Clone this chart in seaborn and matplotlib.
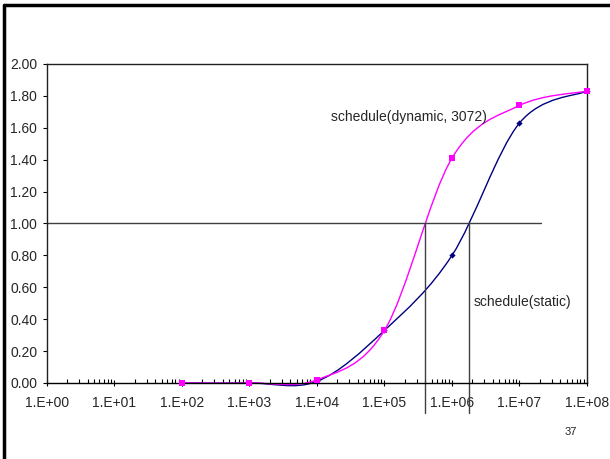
import numpy as np
import pandas as pd
import seaborn as sns
import matplotlib.pyplot as plt
from matplotlib.path import Path
from matplotlib.patches import PathPatch
from matplotlib.lines import Line2D
from matplotlib.ticker import LogLocator, FuncFormatter, NullFormatter

# data
sizes = [1e2, 1e3, 1e4, 1e5, 1e6, 1e7, 1e8]
dynamic_vals = [0.0, 0.0, 0.02, 0.33, 1.41, 1.74, 1.83]
static_vals = [0.0, 0.0, 0.01, 0.33, 0.80, 1.63, 1.83]
x_ticks = [1e0, 1e1, 1e2, 1e3, 1e4, 1e5, 1e6, 1e7, 1e8]

# where each curve crosses 1.0, and the end of the 1.0 guide line
cross_dynamic = 4.0e5
cross_static = 1.8e6
guide_end = 2.1e7

label_dynamic = "schedule(dynamic, 3072)"
label_static = "schedule(static)"
page_no = "37"

colors = {"static": "#000080", "dynamic": "#FF00FF"}

df = pd.DataFrame({
    "size": sizes * 2,
    "value": static_vals + dynamic_vals,
    "schedule": ["static"] * len(sizes) + ["dynamic"] * len(sizes),
})


def smooth_path(xs, ys):
    # excel-style smoothed line: catmull-rom bezier in log-x space
    pts = np.column_stack([np.log10(xs), ys])
    n = len(pts)
    verts = [pts[0]]
    codes = [Path.MOVETO]
    for i in range(n - 1):
        p0 = pts[max(i - 1, 0)]
        p1 = pts[i]
        p2 = pts[i + 1]
        p3 = pts[min(i + 2, n - 1)]
        verts += [p1 + (p2 - p0) / 6, p2 - (p3 - p1) / 6, p2]
        codes += [Path.CURVE4] * 3
    verts = np.array(verts)
    verts[:, 0] = 10 ** verts[:, 0]
    return Path(verts, codes)


sns.set_style("white")
plt.rcParams["font.family"] = ["Liberation Sans", "DejaVu Sans"]

fig = plt.figure(figsize=(6.1, 4.59), dpi=100)
ax = fig.add_axes([0.077, 0.1656, 0.8853, 0.695])
ax.set_xscale("log")

# smoothed lines
for name, vals in [("static", static_vals), ("dynamic", dynamic_vals)]:
    ax.add_patch(PathPatch(smooth_path(sizes, vals), facecolor="none",
                           edgecolor=colors[name], lw=1.0, clip_on=False))

sns.scatterplot(data=df[df.schedule == "static"], x="size", y="value",
                color=colors["static"], marker="D", s=10, linewidth=0,
                legend=False, ax=ax, clip_on=False, zorder=3)
sns.scatterplot(data=df[df.schedule == "dynamic"], x="size", y="value",
                color=colors["dynamic"], marker="s", s=22, linewidth=0,
                legend=False, ax=ax, clip_on=False, zorder=4)

# guide lines
ax.plot([1, guide_end], [1.0, 1.0], color="#404040", lw=1.0, clip_on=False)
for xc in [cross_dynamic, cross_static]:
    ax.plot([xc, xc], [1.0, -0.19], color="#404040", lw=1.0, clip_on=False)

ax.text(10 ** 5.36, 1.67, label_dynamic, fontsize=10, ha="center", va="center")
ax.text(10 ** 6.32, 0.51, label_static, fontsize=10, ha="left", va="center")

ax.set_xlim(1, 1e8)
ax.set_ylim(0, 2)
ax.set_yticks(np.arange(0, 2.01, 0.2))
ax.yaxis.set_major_formatter(FuncFormatter(lambda v, p: f"{v:.2f}"))
ax.set_xticks(x_ticks)
ax.xaxis.set_minor_locator(LogLocator(base=10, subs=np.arange(2, 10), numticks=100))
ax.xaxis.set_minor_formatter(NullFormatter())
ax.xaxis.set_major_formatter(FuncFormatter(
    lambda v, p: f"1.E+{int(round(np.log10(v))):02d}"))
ax.set_xlim(1, 1e8)
ax.set_xlabel("")
ax.set_ylabel("")

ax.tick_params(axis="y", which="major", direction="out", length=3, width=0.8,
               pad=4, labelsize=10, left=True, color="black")
ax.tick_params(axis="x", which="major", direction="inout", length=5, width=0.8,
               pad=7, labelsize=10, bottom=True, color="black")
ax.tick_params(axis="x", which="minor", direction="in", length=3, width=0.8,
               bottom=True, color="black")
for side in ["left", "bottom", "top", "right"]:
    ax.spines[side].set_visible(True)
    ax.spines[side].set_color("#202020")
    ax.spines[side].set_linewidth(1.0)
ax.spines["bottom"].set_color("black")

fig.text(571 / 610, 1 - 432 / 459, page_no, fontsize=8, ha="center", va="center")

# slide frame
fig.add_artist(Line2D([4 / 610, 1], [1 - 5 / 459, 1 - 5 / 459], color="black", lw=2.5))
fig.add_artist(Line2D([4 / 610, 4 / 610], [0, 1 - 5 / 459], color="black", lw=2.5))

fig.savefig("out.png", dpi=100)
